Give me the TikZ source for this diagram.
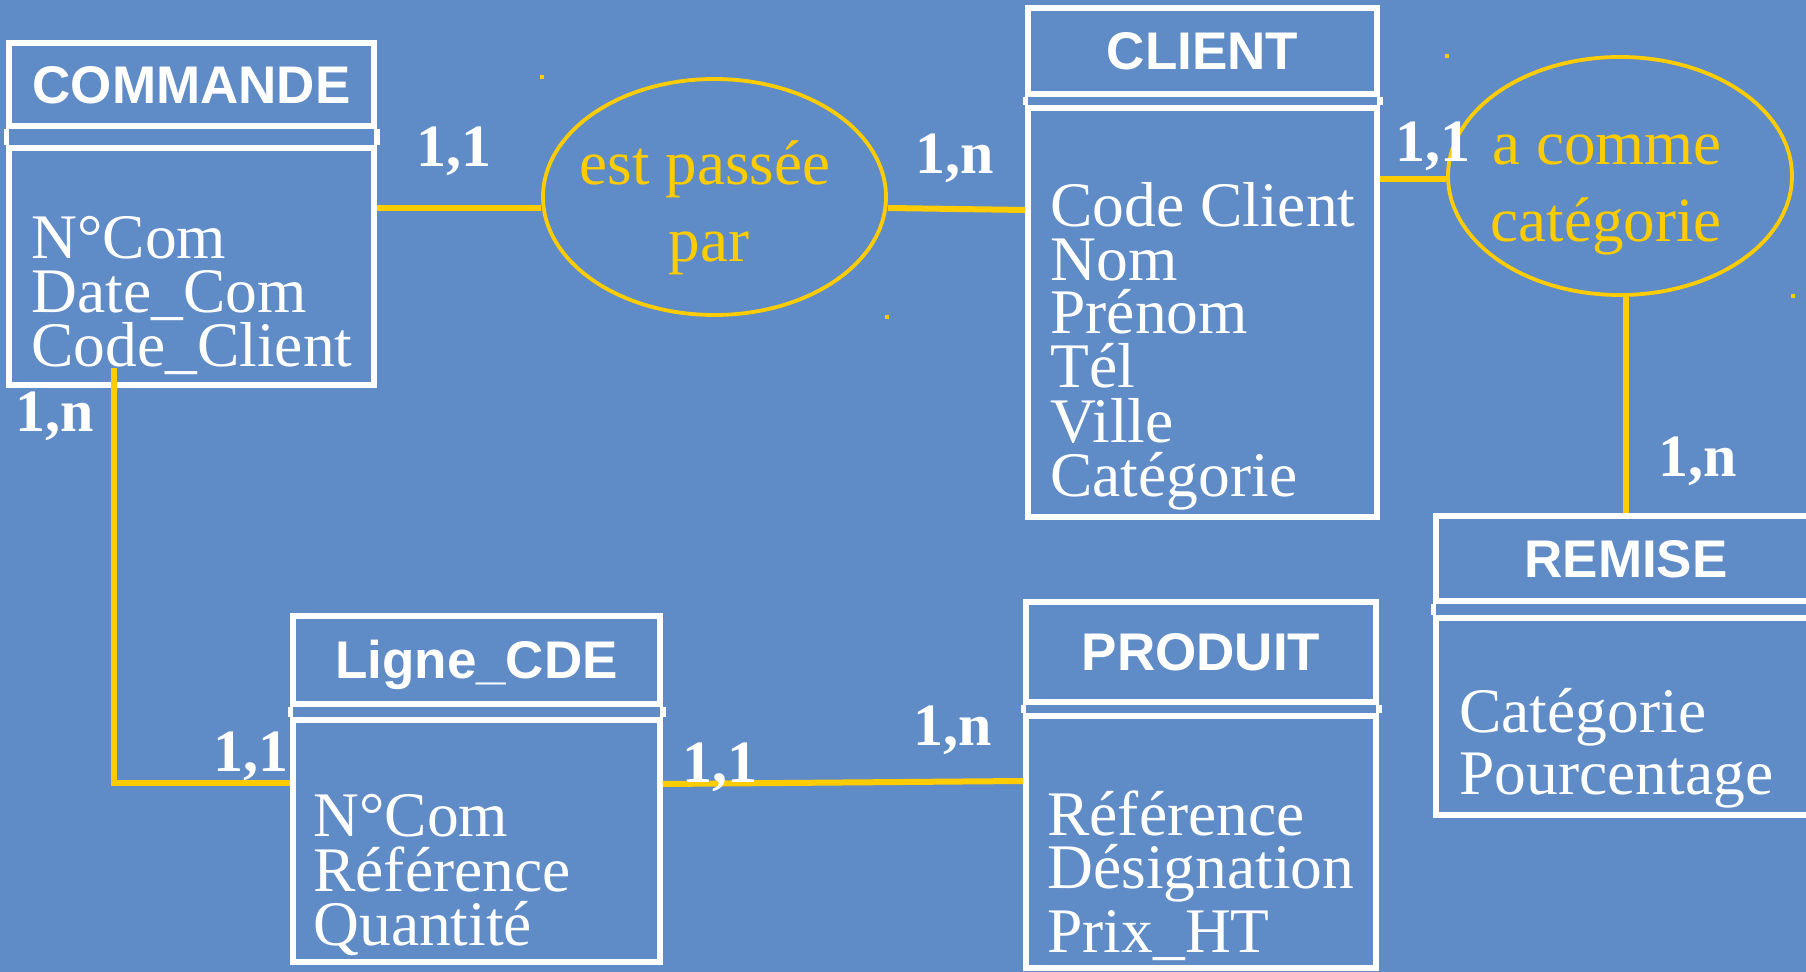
\documentclass[tikz,border=0pt]{standalone}
\usepackage{fontspec}
\setmainfont{Liberation Serif}
\newfontfamily\arialfont{Liberation Sans}
\usepackage{tikz}
\usetikzlibrary{shapes.geometric,% ellipse nodes for the associations
fit}%                  entity boxes fitted to their corners
\definecolor{fond}{RGB}{95,139,199}
\definecolor{jaune}{RGB}{255,204,0}
\newcommand{\attrfont}{\fontsize{31.75pt}{27pt}\selectfont}
\newcommand{\assofont}{\fontsize{31.5pt}{38pt}\selectfont}
\newcommand{\titrefont}{\arialfont\bfseries\fontsize{26.5pt}{26.5pt}\selectfont}
\newcommand{\cartefont}{\bfseries\fontsize{30pt}{30pt}\selectfont}
\tikzset{every node/.style={text=white, inner sep=0pt}}
\tikzset{
  boite/.style={draw=white, line width=2.75pt},
  titre/.style={font=\titrefont, text height=19pt, text depth=0pt},
  attribut/.style={anchor=base west, font=\attrfont},
  carte/.style={anchor=base west, font=\cartefont},
  asso/.style={ellipse, draw=jaune, line width=1.9pt},
  assotexte/.style={anchor=base, text=jaune, font=\assofont},
  lien/.style={draw=jaune, line width=3pt}
}
\newcommand{\entite}[8]
{\node[boite, fit={(#2,#3) (#4,#5)}] (#1-t) {};
  \node[titre] (#1-nom) at (#1-t.center) {#8};
  \node[boite, fit={(#2,#6) (#4,#7)}] (#1) {};
  \draw[boite] (#1-t.south west) -- (#1.north west)
    (#1-t.south east) -- (#1.north east);}

\begin{document}
\begin{tikzpicture}[x=0.5pt,y=-0.5pt]
  \clip (0,0) rectangle (1806,972);
  \fill[fond] (0,0) rectangle (1806,972);
  \entite{commande}{9}{43}{374}{126}{148}{385}{COMMANDE};
  \entite{client}{1028}{8}{1377}{94}{108}{517}{CLIENT};
  \entite{ligne}{293}{616}{660}{704}{720}{962}{Ligne\_CDE};
  \entite{produit}{1026}{602}{1376}{702}{716}{968}{PRODUIT};
  \entite{remise}{1436}{516}{1816}{601}{618}{815}{REMISE};
  \foreach \y/\t [count=\i] in {259/N°Com, 313/Date\_Com, 367/Code\_Client}
    \node[attribut] (commande-a\i) at (31,\y) {\t};
  \foreach \y/\t [count=\i] in {227/Code Client, 281/Nom, 334/Prénom,
      388/Tél, 443/Ville, 497/Catégorie}
    \node[attribut] (client-a\i) at (1050,\y) {\t};
  \foreach \y/\t [count=\i] in {837/N°Com, 892/Référence, 945/Quantité}
    \node[attribut] (ligne-a\i) at (313,\y) {\t};
  \foreach \y/\t [count=\i] in {835/Référence, 888/Désignation, 952/Prix\_HT}
    \node[attribut] (produit-a\i) at (1047,\y) {\t};
  \foreach \y/\t [count=\i] in {733/Catégorie, 795/Pourcentage}
    \node[attribut] (remise-a\i) at (1459,\y) {\t};
  \node[asso, minimum width=171.5pt, minimum height=118pt] (passe) at (714.5,197) {};
  \node[assotexte] (passe-1) at (705,185) {est passée};
  \node[assotexte] (passe-2) at (709,262) {par};
  \node[asso, minimum width=172pt, minimum height=119pt] (categorie) at (1620,176) {};
  \node[assotexte] (categorie-1) at (1607,165) {a comme};
  \node[assotexte] (categorie-2) at (1606,242) {catégorie};
  \foreach \x/\y in {542/77, 887/317, 1447/56, 1793/296}
    \fill[jaune] (\x-2,\y-2) rectangle ++(4,4);
  \draw[lien] (commande.east |- 0,208) -- (passe.west |- 0,208);
  \draw[lien] (passe.east |- 0,208) -- (client.west |- 0,210);
  \draw[lien] (client.east |- 0,179) -- (categorie.west |- 0,179);
  \draw[lien] (categorie.south -| remise-t.north) -- (remise-t.north);
  \draw[lien] (commande.south -| 114,0) ++(0,-20) |- (ligne.west |- 0,783);
  \draw[lien] (ligne.east |- 0,784) -- (produit.west |- 0,781);
  \node[carte] (c-commande) at (416,167) {1,1};
  \node[carte] (c-client) at (915,174) {1,n};
  \node[carte] (c-client2) at (1395,162) {1,1};
  \node[carte] (c-remise) at (1658,477) {1,n};
  \node[carte] (c-commande2) at (15,432) {1,n};
  \node[carte] (c-ligne) at (213,772) {1,1};
  \node[carte] (c-ligne2) at (682,783) {1,1};
  \node[carte] (c-produit) at (913,746) {1,n};
\end{tikzpicture}
\end{document}
